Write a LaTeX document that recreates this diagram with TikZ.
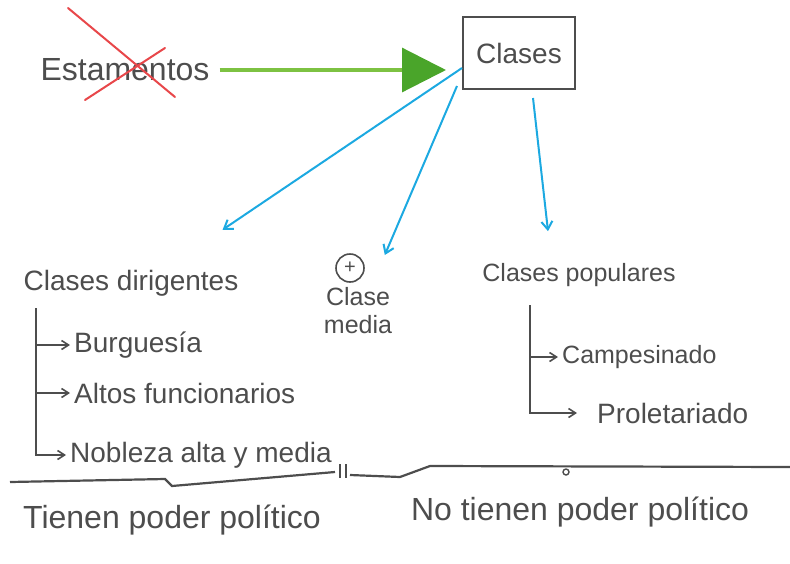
\documentclass[tikz,border=0pt]{standalone}
\usepackage{fontspec}
\setmainfont{Liberation Sans}
\usetikzlibrary{arrows.meta,positioning,calc}
\definecolor{pencil}{HTML}{4D4D4D}
\definecolor{xred}{HTML}{E8474A}
\definecolor{lgreen}{HTML}{7DC242}
\definecolor{dgreen}{HTML}{4AA52A}
\definecolor{skyb}{HTML}{1CA9E1}

\begin{document}
\begin{tikzpicture}[x=1pt,y=-1pt,
  txt/.style={text=pencil,font=\fontsize{28}{32}\selectfont,inner sep=2pt},
  big/.style={txt,font=\fontsize{32}{36}\selectfont},
  small/.style={txt,font=\fontsize{25}{28}\selectfont},
  branch/.style={draw=pencil,line width=1.6pt,-{Straight Barb[length=7pt,width=9pt]}},
  link/.style={draw=skyb,line width=2pt,-{Straight Barb[length=8pt,width=11pt]}}]
  \useasboundingbox (0,0) rectangle (790,563);

  % old and new
  \node[big] (estam) at (125,70) {Estamentos};
  \draw[xred,line width=2pt,line cap=round] (68,8) -- (175,97) (85,100) -- (165,48);
  \node[txt,draw=pencil,line width=2pt,minimum width=112pt,minimum height=72pt]
    (clases) at (519,53) {Clases};
  \draw[lgreen,line width=3.2pt,shorten <=8pt,shorten >=16pt,
        -{Triangle[length=44pt,width=44pt,color=dgreen]}]
    (estam.east) -- (estam.east -| clases.west);

  % the three groups
  \node[txt] (dirig) at (131,283) {Clases dirigentes};
  \node[draw=pencil,circle,line width=1.6pt,minimum size=28pt,inner sep=0pt,
        text=pencil,font=\fontsize{20}{20}\selectfont] (plus) at (350,268) {+};
  \node[small,align=center,below=2pt of plus,xshift=8pt] (media) {Clase\\media};
  \node[small] (popul) at (579,275) {Clases populares};

  \draw[link] ([yshift=-15pt]clases.west) -- ([xshift=-18pt,yshift=38pt]dirig.north east);
  \draw[link] ([xshift=-5pt,yshift=4pt]clases.south west) -- ([xshift=20pt,yshift=13pt]plus.east);
  \draw[link] ([xshift=14pt,yshift=-8pt]clases.south) -- ([xshift=-31pt,yshift=30pt]popul.north);

  % members
  \node[txt,anchor=west] (burg) at (72,345) {Burguesía};
  \node[txt,anchor=west] (altos) at (72,393) {Altos funcionarios};
  \node[txt,anchor=west] (nob) at (68,455) {Nobleza alta y media};
  \coordinate (dtop) at (36,308);
  \foreach \m in {burg,altos,nob}
    \draw[branch,shorten >=2pt] (dtop) |- (\m.west);

  \node[small,anchor=west] (camp) at (560,357) {Campesinado};
  \node[txt,anchor=west] (prol) at (595,413) {Proletariado};
  \coordinate (ptop) at (530,305);
  \draw[branch,shorten >=2pt] (ptop) |- (camp.west);
  \draw[branch,shorten >=18pt] (ptop) |- (prol.west);

  % dividing line
  \draw[pencil,line width=2.2pt] (10,482) -- (165,479) -- (172,486) -- (335,472)
    (350,475) -- (400,477) -- (430,466) -- (790,467);
  \draw[pencil,line width=1.6pt] (340,464) -- (340,478) (346,464) -- (346,478);
  \draw[pencil,line width=1.4pt] (566,472) circle (3);

  \node[big] (tienen) at (172,520) {Tienen poder político};
  \node[big] (notienen) at (580,512) {No tienen poder político};
\end{tikzpicture}
\end{document}
